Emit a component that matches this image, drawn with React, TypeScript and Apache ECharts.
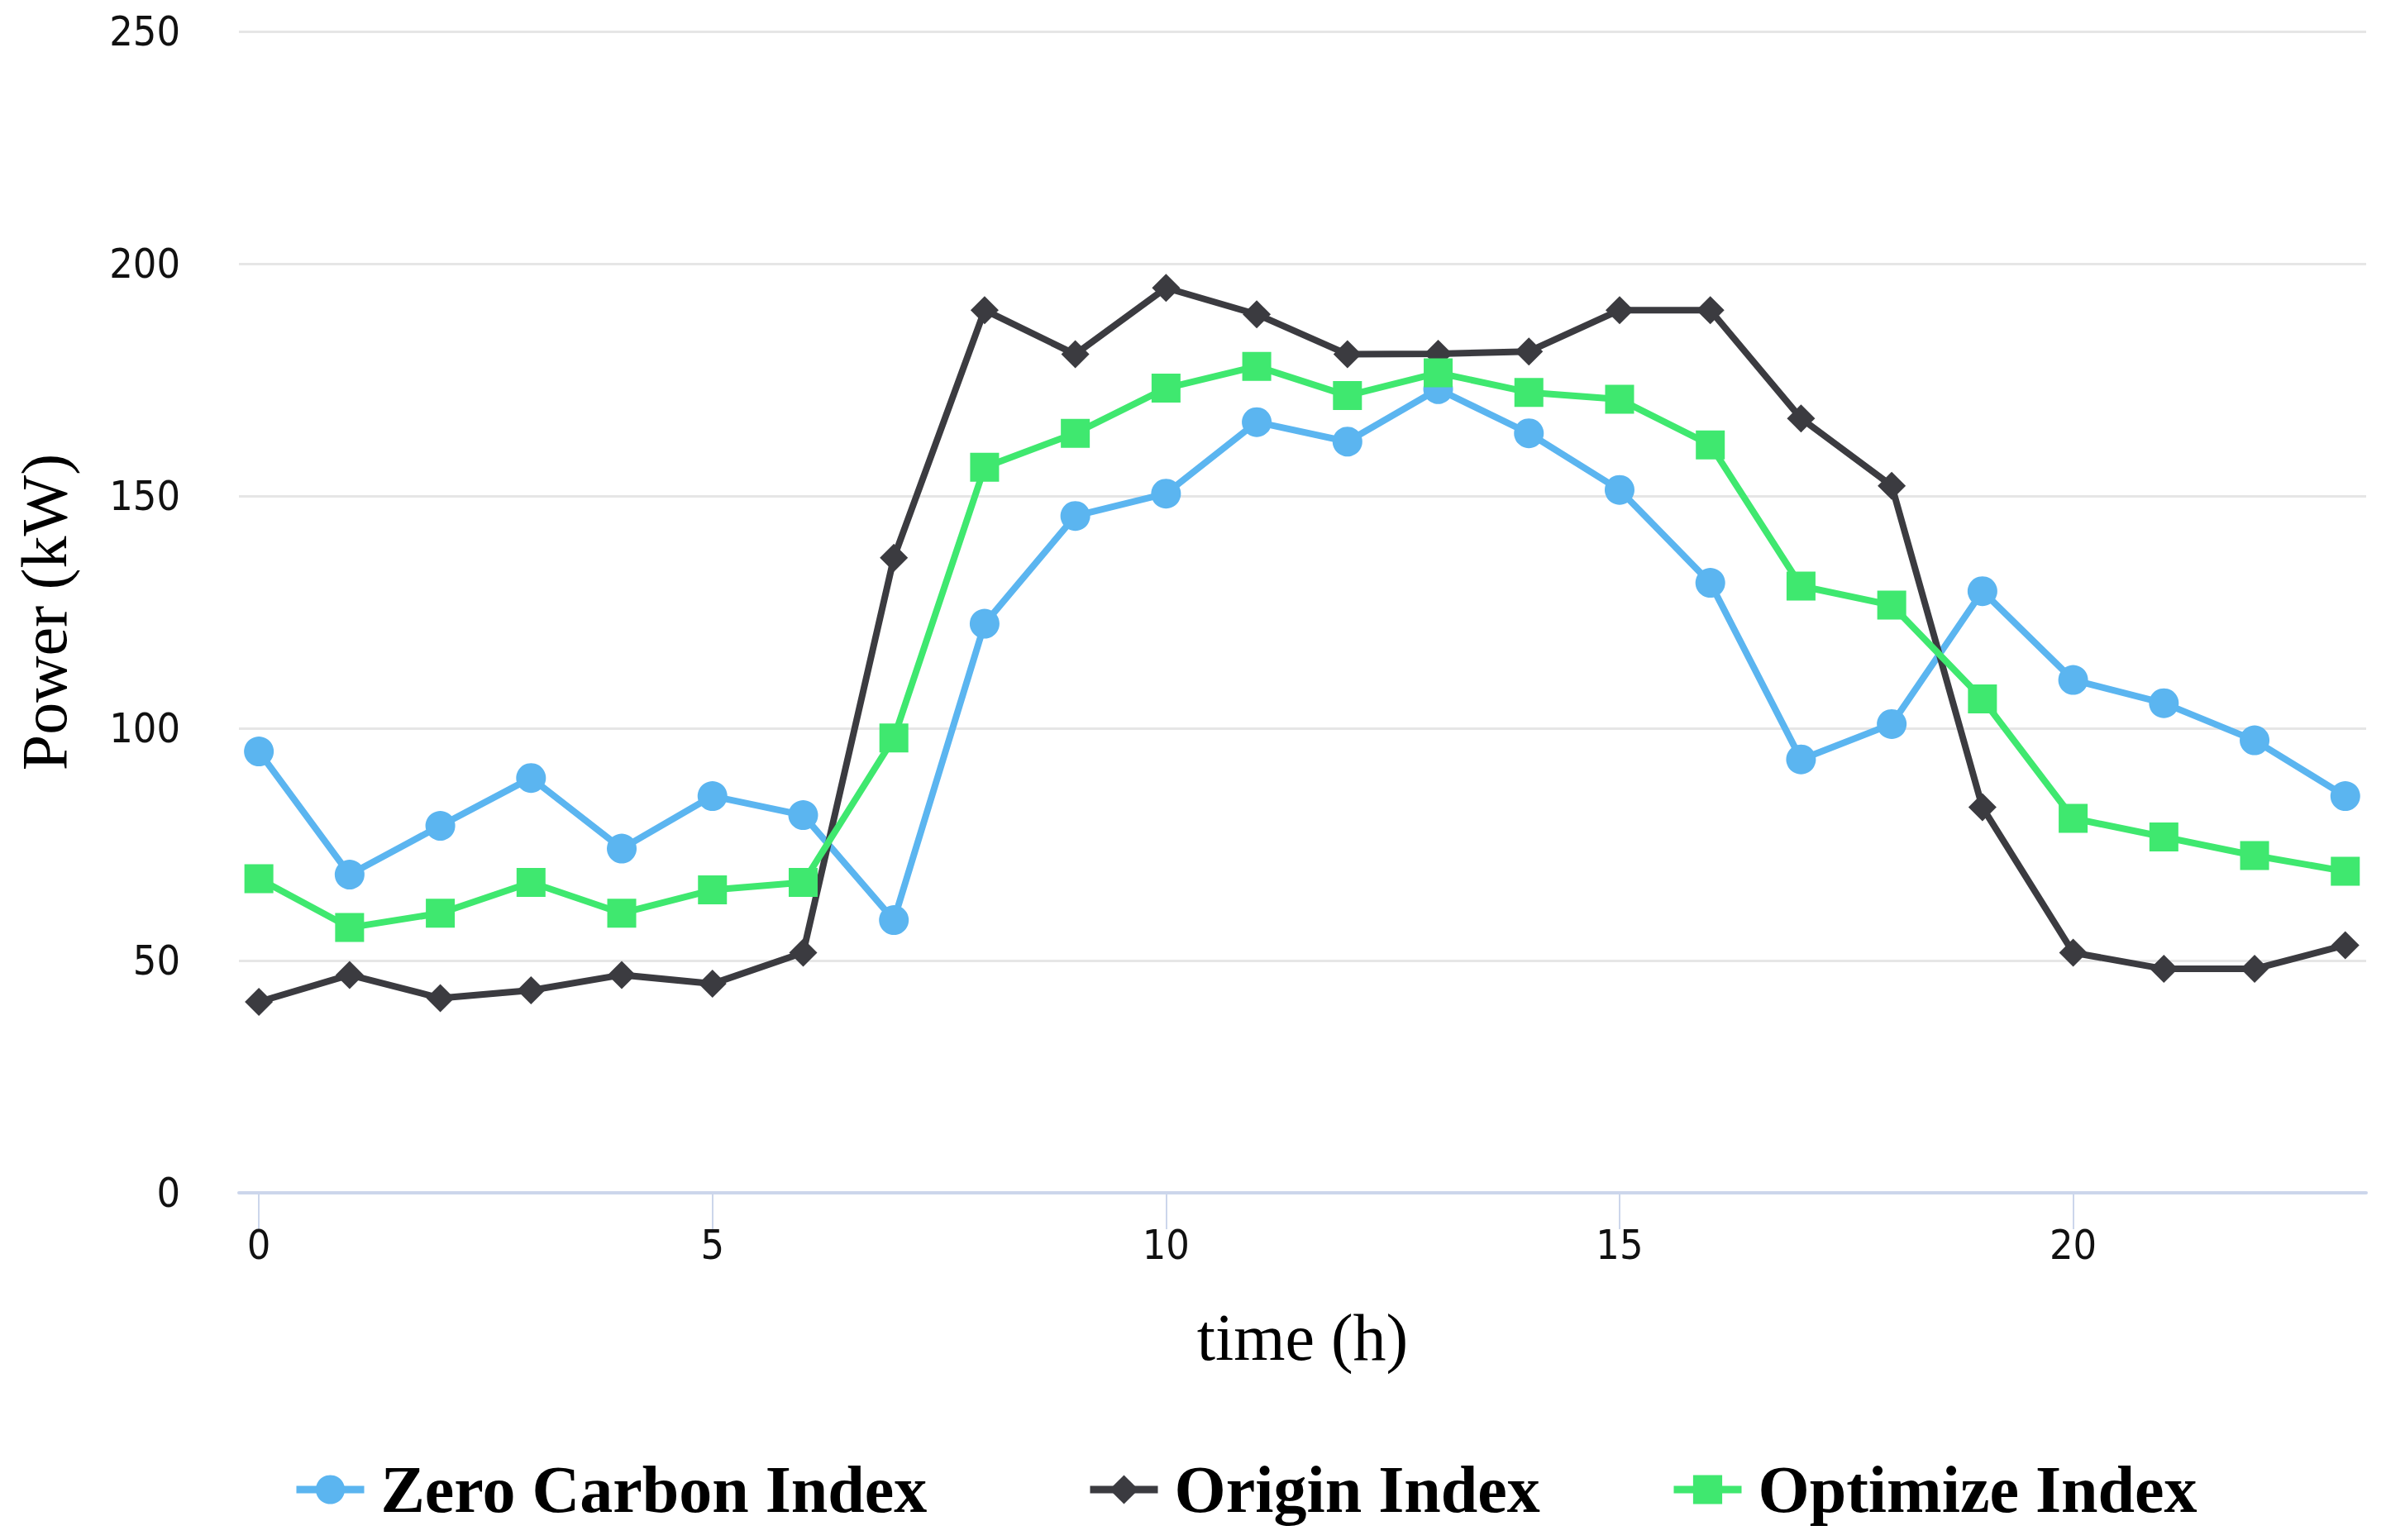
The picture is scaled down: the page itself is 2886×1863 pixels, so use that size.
import React, { useEffect, useRef } from "react";
import * as echarts from "echarts";

const hours = [0, 1, 2, 3, 4, 5, 6, 7, 8, 9, 10, 11, 12, 13, 14, 15, 16, 17, 18, 19, 20, 21, 22, 23];
const zeroCarbon = [95, 68.5, 79, 89.3, 74.1, 85.4, 81.3, 58.7, 122.5, 145.7, 150.5, 165.9, 161.7, 173, 163.5, 151.3, 131.3, 93.3, 100.9, 129.5, 110.4, 105.4, 97.4, 85.4];
const origin = [41.1, 46.9, 41.9, 43.6, 46.9, 45, 51.7, 136.7, 190, 180.5, 194.8, 189.1, 180.5, 180.6, 181.1, 190, 190, 166.7, 152.2, 83, 51.7, 48.2, 48.2, 53.3];
const optimize = [67.6, 57.1, 60.2, 66.8, 60.2, 65.2, 66.8, 97.9, 156.2, 163.5, 173.2, 177.9, 171.6, 176.5, 172.3, 170.8, 161, 130.6, 126.5, 106.3, 80.6, 76.6, 72.6, 69.2];
const xTicks = [0, 5, 10, 15, 20];
const seriesNames = ["Zero Carbon Index", "Origin Index", "Optimize Index"];

const SERIF = "'Liberation Serif', 'Times New Roman', serif";
const SANS = "'DejaVu Sans Condensed', 'DejaVu Sans', sans-serif";

export default function App() {
  const ref = useRef<HTMLDivElement>(null);
  useEffect(() => {
    if (!ref.current) return;
    const chart = echarts.init(ref.current, undefined, { renderer: "svg" });
    const pair = (arr: number[]) => hours.map((h, i) => [h, arr[i]]);
    const legendBase = {
      top: 1752,
      itemWidth: 82,
      itemHeight: 44,
      lineStyle: { width: 9 },
      textStyle: {
        fontFamily: SERIF,
        fontWeight: "bold",
        fontSize: 80,
        color: "#000",
        lineHeight: 90,
        padding: [0, 0, 0, 15],
      },
    };
    chart.setOption({
      animation: false,
      backgroundColor: "#fff",
      grid: { left: 289, right: 24, top: 38, bottom: 420, containLabel: false },
      legend: [
        { ...legendBase, left: 349, data: [seriesNames[0]] },
        { ...legendBase, left: 1309, data: [seriesNames[1]] },
        { ...legendBase, left: 2015, data: [seriesNames[2]] },
      ],
      xAxis: {
        type: "value",
        min: -0.22,
        max: 23.23,
        name: "time (h)",
        nameLocation: "middle",
        nameGap: 135,
        nameTextStyle: { fontFamily: SERIF, fontSize: 80, color: "#000" },
        axisLine: { show: true, lineStyle: { color: "#ccd6eb", width: 4 } },
        axisTick: { show: true, length: 44, customValues: xTicks, lineStyle: { color: "#ccd6eb", width: 2 } },
        axisLabel: { customValues: xTicks, margin: 38, fontFamily: SANS, fontSize: 50, color: "#111" },
        splitLine: { show: false },
      },
      yAxis: {
        type: "value",
        min: 0,
        max: 250,
        interval: 50,
        name: "Power (kW)",
        nameLocation: "middle",
        nameGap: 197,
        nameTextStyle: { fontFamily: SERIF, fontSize: 78, color: "#000" },
        axisLine: { show: false },
        axisTick: { show: false },
        axisLabel: { margin: 71, fontFamily: SANS, fontSize: 50, color: "#111" },
        splitLine: { lineStyle: { color: "#e6e6e6", width: 3 } },
      },
      series: [
        {
          name: seriesNames[0],
          type: "line",
          data: pair(zeroCarbon),
          symbol: "circle",
          symbolSize: 36,
          color: "#5bb5f0",
          lineStyle: { width: 8, color: "#5bb5f0" },
          itemStyle: { color: "#5bb5f0" },
        },
        {
          name: seriesNames[1],
          type: "line",
          data: pair(origin),
          symbol: "diamond",
          symbolSize: 34,
          color: "#3b3b40",
          lineStyle: { width: 8, color: "#3b3b40" },
          itemStyle: { color: "#3b3b40" },
        },
        {
          name: seriesNames[2],
          type: "line",
          data: pair(optimize),
          symbol: "rect",
          symbolSize: 35,
          color: "#3fe86f",
          lineStyle: { width: 8, color: "#3fe86f" },
          itemStyle: { color: "#3fe86f" },
        },
      ],
    });
    return () => chart.dispose();
  }, []);
  return (
    <div
      ref={ref}
      style={{ position: "fixed", left: 0, top: 0, width: "100vw", height: "100vh", background: "#fff" }}
    />
  );
}
